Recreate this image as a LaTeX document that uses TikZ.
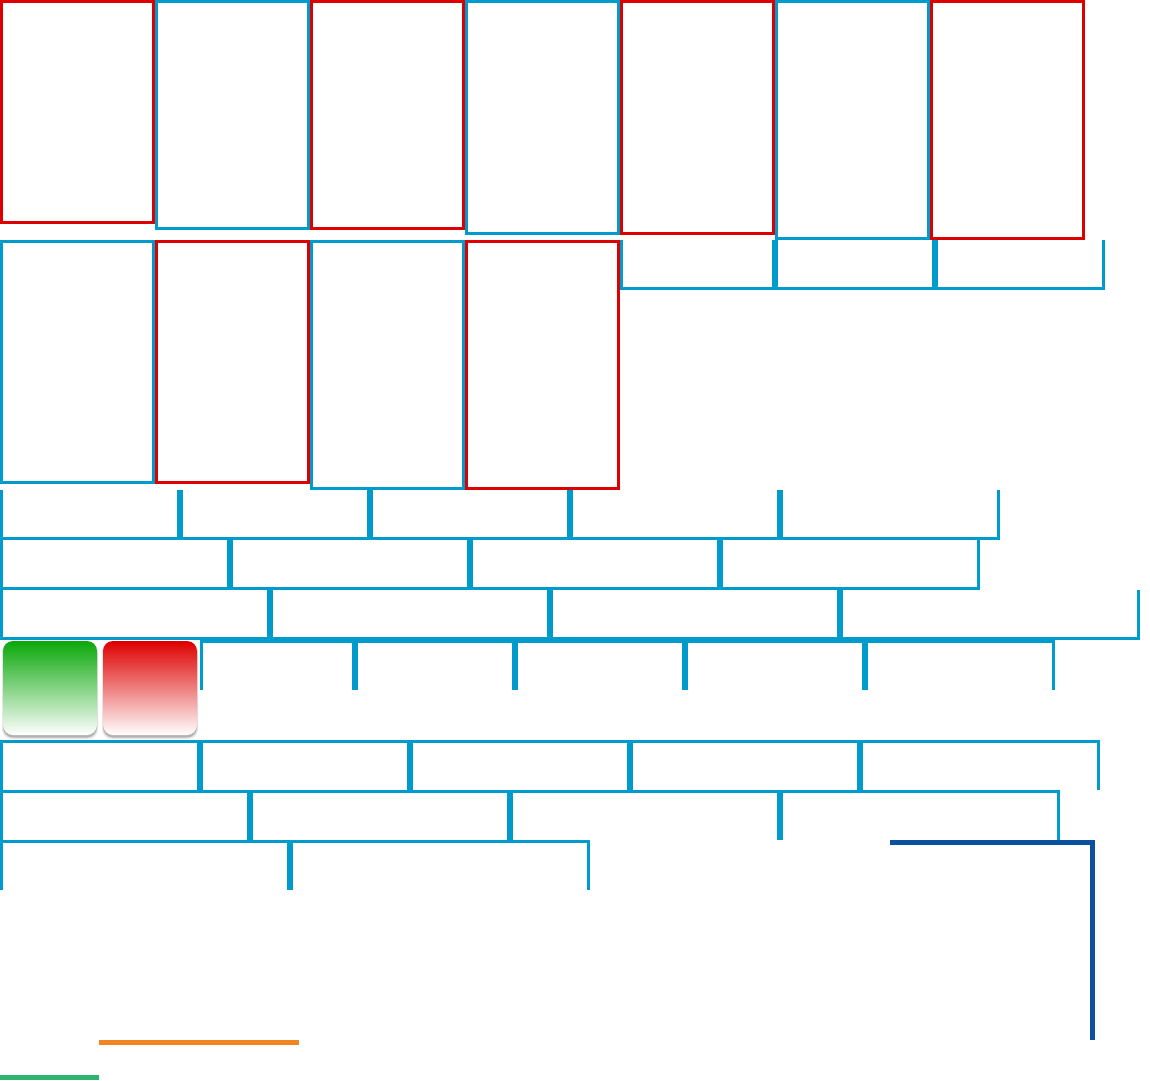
\documentclass[tikz,border=0pt]{standalone}
\definecolor{cblue}{RGB}{0,155,205}
\definecolor{cred}{RGB}{222,0,0}
\definecolor{cdark}{RGB}{12,80,160}
\definecolor{corange}{RGB}{242,133,32}
\definecolor{cgreen}{RGB}{46,180,108}
\definecolor{ggreen}{RGB}{10,168,10}
\begin{document}
\begin{tikzpicture}[x=1pt,y=-1pt,line join=miter,line cap=butt,
  boxline/.style={line width=3pt},
  thinline/.style={line width=3pt,draw=cblue},
  tickline/.style={line width=6pt,draw=cblue},
  gradbox/.style={rounded corners=10pt}]
\fill[white] (0,0) rectangle (1150,1080);
\useasboundingbox (0,0) rectangle (1150,1080);
% row 1 boxes
\foreach \k/\b/\c in {0/224.3/cred,1/229.7/cblue,2/229.7/cred,3/235/cblue,4/235/cred,5/240.3/cblue,6/240.3/cred}
  \draw[boxline,draw=\c] ({155*\k+1.5},1.5) rectangle ({155*\k+153.5},{\b-1.5});
% row 2 boxes
\foreach \k/\b/\c in {0/484.3/cblue,1/484.3/cred,2/490/cblue,3/490/cred}
  \draw[boxline,draw=\c] ({155*\k+1.5},241.5) rectangle ({155*\k+153.5},{\b-1.5});
% upper right bracket
\draw[thinline] (621.8,240) -- (621.8,288.5) -- (1103.5,288.5) -- (1103.5,240);
\foreach \x in {775,935} \draw[tickline] (\x,240) -- (\x,288.5);
% row A
\draw[thinline] (1.5,490) -- (1.5,538.5) -- (998.5,538.5) -- (998.5,490);
\foreach \x in {180,370,570,780} \draw[tickline] (\x,490) -- (\x,538.5);
% row B
\draw[thinline] (1.5,540) -- (1.5,588.5) -- (978.5,588.5) -- (978.5,540);
\foreach \x in {230,470,720} \draw[tickline] (\x,540) -- (\x,588.5);
% row C
\draw[thinline] (1.5,590) -- (1.5,638.5) -- (1138.5,638.5) -- (1138.5,590);
\foreach \x in {270,550,840} \draw[tickline] (\x,590) -- (\x,638.5);
% row D
\draw[thinline] (201.5,690) -- (201.5,641.5) -- (1053.5,641.5) -- (1053.5,690);
\foreach \x in {355,515,685,865} \draw[tickline] (\x,641.5) -- (\x,690);
% row E
\draw[thinline] (1.5,790) -- (1.5,741.5) -- (1098,741.5) -- (1098,790);
\foreach \x in {200,410,630,860} \draw[tickline] (\x,741.5) -- (\x,790);
% row F
\draw[thinline] (1.5,840) -- (1.5,791.5) -- (1058,791.5) -- (1058,840);
\foreach \x in {250,510,780} \draw[tickline] (\x,791.5) -- (\x,840);
% row G
\draw[thinline] (1.5,890) -- (1.5,841.5) -- (588,841.5) -- (588,890);
\draw[tickline] (290,841.5) -- (290,890);
% gradient boxes with shadows
\foreach \x in {3,103} {
  \fill[black,opacity=0.10,gradbox] ({\x-1},642) rectangle ({\x+95},739);
  \fill[black,opacity=0.22,gradbox] (\x,643) rectangle ({\x+94},737.5);
}
\shade[gradbox,top color=ggreen,bottom color=white] (3,641) rectangle (97,735);
\shade[gradbox,top color=cred,bottom color=white] (103,641) rectangle (197,735);
% dark blue corner
\draw[line width=5pt,draw=cdark] (890,842.5) -- (1092.5,842.5) -- (1092.5,1040);
% orange and green bars
\fill[corange] (99,1040) rectangle (299,1045);
\fill[cgreen] (0,1074.5) rectangle (99,1080);
\end{tikzpicture}
\end{document}
